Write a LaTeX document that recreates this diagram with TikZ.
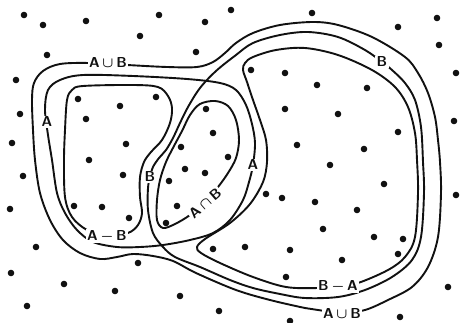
\documentclass[tikz,border=0pt]{standalone}
\usepackage{amsmath,amssymb}
\usepackage{tikz}
\usetikzlibrary{calc}
\definecolor{ink}{HTML}{111111}
\tikzset{
  % punkter, kurvor, etiketter
  pt/.style={fill=ink},
  rim/.style={draw=ink,line width=1.9pt,smooth cycle,tension=0.55},
  lb/.style={fill=white,inner sep=1.3pt,text=ink,font=\fontsize{15}{17}\selectfont\boldmath},
}
\begin{document}
\begin{tikzpicture}[x=1pt,y=-1pt]
  \fill[white] (0,0) rectangle (460,323);
  \useasboundingbox (0,0) rectangle (460,323);
  % punkterna
  \foreach \x/\y in {24/15,43/25,86/21,140/36,47/55,159/15,205/22,231/10,196/52,312/13,
      398/27,437/18,439/45,456/73,454/121,456/195,448/287,400/317,290/321,219/311,
      180/296,138/263,115/291,64/284,27/306,11/273,36/247,10/209,23/176,12/143,20/114,16/80,
      78/99,120/106,156/97,86/119,126/144,89/160,123/175,74/206,102/207,129/218,
      206/109,213/133,181/147,185/169,205/173,169/181,177/206,166/223,228/157,
      251/70,285/73,317/85,367/88,285/109,338/114,398/132,297/145,364/149,330/165,
      384/184,266/194,282/198,315/202,357/210,323/229,374/237,403/239,398/254,342/260,
      213/249,245/247,290/250,286/277}
    \fill[pt] (\x,\y) circle (3.3pt);
  % A u B
  \draw[rim] plot coordinates {(32,100) (34,83) (43,71) (60,64) (90,63) (127,65) (167,67)
      (197,67) (213,62) (225,53) (236,43) (253,33) (280,25) (313,22) (338,25) (372,37)
      (405,57) (418,73) (428,93) (435,117) (438,140) (440,162) (441,193) (438,237)
      (428,267) (412,287) (388,300) (365,310) (342,313) (318,310) (305,308) (270,300)
      (236,290) (196,273) (173,261) (153,256) (133,254) (117,257) (100,259) (80,253)
      (63,240) (50,220) (40,193) (35,160) (33,130)};
  % A
  \draw[rim] plot coordinates {(45,110) (48,90) (60,80) (83,75) (133,76) (187,79) (220,83)
      (236,90) (246,105) (252,124) (255,143) (253,165) (249,182) (243,200) (230,220)
      (213,233) (190,240) (163,245) (140,247) (117,247) (93,242) (77,230) (65,213)
      (57,193) (52,160) (48,135)};
  % B
  \draw[rim] plot coordinates {(150,177) (153,167) (159,158) (166,150) (173,138) (180,123)
      (188,107) (200,88) (216,71) (236,55) (253,43) (280,35) (308,32) (338,37) (365,50)
      (382,62) (392,70) (405,83) (415,100) (421,127) (423,162) (424,193) (421,237)
      (412,260) (392,277) (365,290) (338,297) (305,298) (280,294) (253,288) (230,280)
      (200,267) (175,257) (163,247) (153,233) (148,210) (148,188)};
  % A - B
  \draw[rim] plot coordinates {(64,160) (65,130) (67,100) (72,90) (83,86) (133,85) (158,87)
      (168,96) (172,108) (170,123) (162,140) (151,152) (144,162) (140,177) (140,197)
      (142,213) (138,225) (128,233) (107,236) (87,230) (72,217) (65,197)};
  % B - A
  \draw[rim] plot coordinates {(243,70) (247,82) (253,100) (260,120) (266,140) (267,162)
      (263,182) (250,204) (230,223) (205,239) (197,247) (201,253) (220,263) (253,277)
      (286,287) (318,288) (338,286) (358,283) (388,270) (405,257) (415,237) (418,193)
      (417,160) (415,133) (408,107) (395,87) (372,70) (338,55) (305,48) (276,50)
      (253,57) (245,63)};
  % A n B
  \draw[rim] plot coordinates {(200,104) (215,101) (228,106) (236,120) (239,140) (236,158)
      (228,173) (218,187) (205,202) (190,215) (175,224) (163,228) (157,220) (157,200)
      (160,180) (166,162) (174,146) (182,131) (190,115)};
  % etiketter
  \node[lb] (aubtop) at (108,63) {$\mathsf{A}\,{\cup}\,\mathsf{B}$};
  \node[lb] (aubbot) at (342,313) {$\mathsf{A}\,{\cup}\,\mathsf{B}$};
  \node[lb] (aleft) at (47,122) {$\mathsf{A}$};
  \node[lb] (amid) at (253,165) {$\mathsf{A}$};
  \node[lb] (btop) at (382,62) {$\mathsf{B}$};
  \node[lb] (bmid) at (150,177) {$\mathsf{B}$};
  \node[lb] (amb) at (107,236) {$\mathsf{A}\,{-}\,\mathsf{B}$};
  \node[lb] (bma) at (338,286) {$\mathsf{B}\,{-}\,\mathsf{A}$};
  \node[lb,rotate=41] (anb) at (205,203) {$\mathsf{A}\,{\cap}\,\mathsf{B}$};
\end{tikzpicture}
\end{document}
